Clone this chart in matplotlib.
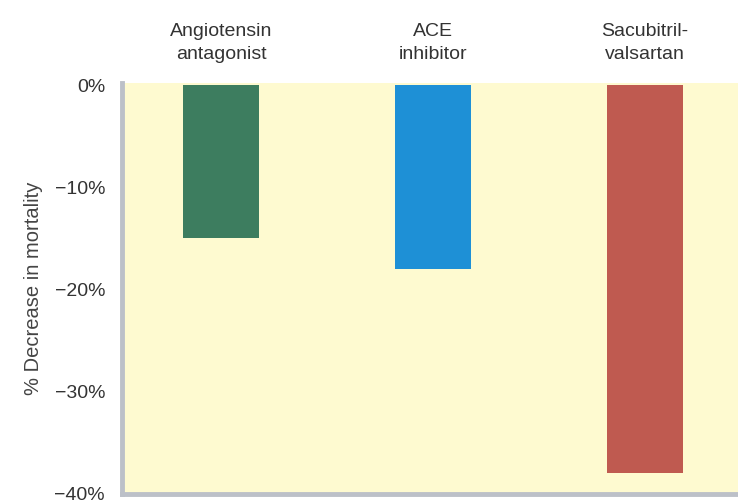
import matplotlib
matplotlib.use("Agg")
import matplotlib.pyplot as plt
from matplotlib.ticker import FuncFormatter

plt.rcParams['font.family'] = ['Liberation Sans', 'DejaVu Sans']

# drug classes and their effect on mortality (%)
categories = ["Angiotensin\nantagonist", "ACE\ninhibitor", "Sacubitril-\nvalsartan"]
mortality_change = [-15, -18, -38]
bar_colors = ["#3d7d5f", "#1e90d6", "#bf5a50"]
y_ticks = [0, -10, -20, -30, -40]

fig = plt.figure(figsize=(7.38, 5.04), dpi=100)
ax = fig.add_axes([0.165, 0.02, 0.835, 0.815])
ax.set_facecolor("#fefad0")

x = range(len(categories))
ax.bar(x, mortality_change, width=0.36, color=bar_colors)

ax.set_xlim(-0.47, 2.44)
ax.set_ylim(-40, 0.2)
ax.set_yticks(y_ticks)
ax.yaxis.set_major_formatter(FuncFormatter(lambda v, p: f"{v:.0f}%".replace("-", "\u2212")))
ax.tick_params(axis='y', length=0, labelsize=14, labelcolor="#333333", pad=12)
ax.set_xticks([])

# category labels above the plot
for i, name in enumerate(categories):
    ax.text(i, 1.05, name, transform=ax.get_xaxis_transform(), ha='center', va='bottom',
            fontsize=14, color="#333333", linespacing=1.4)

ax.set_ylabel("% Decrease in mortality", fontsize=14.5, color="#444444", labelpad=8)

for side in ['top', 'right']:
    ax.spines[side].set_visible(False)
for side in ['left', 'bottom']:
    ax.spines[side].set_color("#bcc0c8")
    ax.spines[side].set_linewidth(3.5)

fig.savefig("out.png", dpi=100)
